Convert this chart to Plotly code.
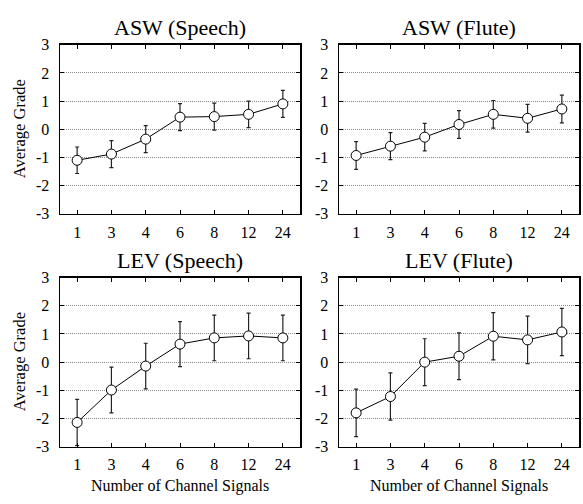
import plotly.graph_objects as go

channels = ["1", "3", "4", "6", "8", "12", "24"]

asw_speech = [-1.10, -0.88, -0.35, 0.43, 0.45, 0.53, 0.90]
asw_speech_err = [0.47, 0.48, 0.48, 0.48, 0.48, 0.47, 0.48]

asw_flute = [-0.93, -0.60, -0.28, 0.17, 0.53, 0.39, 0.72]
asw_flute_err = [0.49, 0.48, 0.49, 0.49, 0.49, 0.49, 0.49]

lev_speech = [-2.14, -0.99, -0.14, 0.64, 0.86, 0.93, 0.86]
lev_speech_err = [0.82, 0.81, 0.81, 0.80, 0.81, 0.81, 0.81]

lev_flute = [-1.80, -1.22, 0.00, 0.21, 0.92, 0.79, 1.07]
lev_flute_err = [0.84, 0.84, 0.83, 0.83, 0.84, 0.84, 0.84]

titles = ["ASW (Speech)", "ASW (Flute)", "LEV (Speech)", "LEV (Flute)"]
y_ticks = [-3, -2, -1, 0, 1, 2, 3]
y_tick_labels = ["-3", "-2", "-1", "0", "1", "2", "3"]

W, H = 583, 504
FONT = "Liberation Serif, Times New Roman, Times, serif"

panels = [
    (asw_speech, asw_speech_err, (60, 300), (38, 213)),
    (asw_flute, asw_flute_err, (339, 579), (38, 213)),
    (lev_speech, lev_speech_err, (60, 300), (279, 454)),
    (lev_flute, lev_flute_err, (339, 579), (279, 454)),
]

fig = go.Figure()
layout = dict(
    width=W, height=H,
    margin=dict(l=0, r=0, t=0, b=0),
    paper_bgcolor="white", plot_bgcolor="white",
    showlegend=False,
    font=dict(family=FONT, color="black", size=14),
)
annotations = []

for i, (vals, errs, (x0, x1), (y0, y1)) in enumerate(panels):
    n = i + 1
    xa = "x" if n == 1 else f"x{n}"
    ya = "y" if n == 1 else f"y{n}"
    fig.add_trace(go.Scatter(
        x=channels, y=vals, xaxis=xa, yaxis=ya,
        mode="lines+markers",
        line=dict(color="black", width=1),
        marker=dict(symbol="circle", size=10, color="white",
                    line=dict(color="black", width=1)),
        error_y=dict(type="data", array=errs, visible=True,
                     color="#222222", thickness=1.2, width=2),
        cliponaxis=True,
    ))
    xkey = "xaxis" if n == 1 else f"xaxis{n}"
    ykey = "yaxis" if n == 1 else f"yaxis{n}"
    layout[xkey] = dict(
        domain=[x0 / W, x1 / W], anchor=ya,
        type="category", categoryorder="array", categoryarray=channels,
        range=[-0.5, 6.5],
        showline=True, linecolor="black", linewidth=1.5, mirror="ticks",
        ticks="inside", ticklen=4, tickwidth=1, tickcolor="black",
        showgrid=False, zeroline=False,
        tickfont=dict(family=FONT, size=16, color="black"),
        ticklabelstandoff=3,
        fixedrange=True,
    )
    layout[ykey] = dict(
        domain=[1 - y1 / H, 1 - y0 / H], anchor=xa,
        range=[-3, 3], tickvals=y_ticks, ticktext=y_tick_labels,
        showline=True, linecolor="black", linewidth=1.5, mirror="ticks",
        ticks="inside", ticklen=4, tickwidth=1, tickcolor="black",
        showgrid=True, gridcolor="#8a8a8a", gridwidth=1, griddash="1px,1px",
        zeroline=False,
        tickfont=dict(family=FONT, size=16, color="black"),
        ticklabelstandoff=6,
        fixedrange=True,
    )
    annotations.append(dict(
        text=titles[i], x=(x0 + x1) / 2 / W, y=1 - (y0 - 18) / H,
        xref="paper", yref="paper", xanchor="center", yanchor="middle",
        showarrow=False, font=dict(family=FONT, size=22, color="black"),
    ))

# y axis titles (left column)
for (y0, y1) in [(38, 213), (279, 454)]:
    annotations.append(dict(
        text="Average Grade", x=19 / W, y=1 - (y0 + y1) / 2 / H,
        xref="paper", yref="paper", xanchor="center", yanchor="middle",
        textangle=-90, showarrow=False,
        font=dict(family=FONT, size=16.5, color="black"),
    ))
# x axis titles (bottom row)
for (x0, x1) in [(60, 300), (339, 579)]:
    annotations.append(dict(
        text="Number of Channel Signals", x=(x0 + x1) / 2 / W, y=1 - 495 / H,
        xref="paper", yref="paper", xanchor="center", yanchor="middle",
        showarrow=False, font=dict(family=FONT, size=16, color="black"),
    ))

layout["annotations"] = annotations
fig.update_layout(**layout)
fig.write_html(
    "out.html",
    config={"displayModeBar": False, "staticPlot": True},
    post_script="document.body.style.margin='0';document.body.style.overflow='hidden';",
)
